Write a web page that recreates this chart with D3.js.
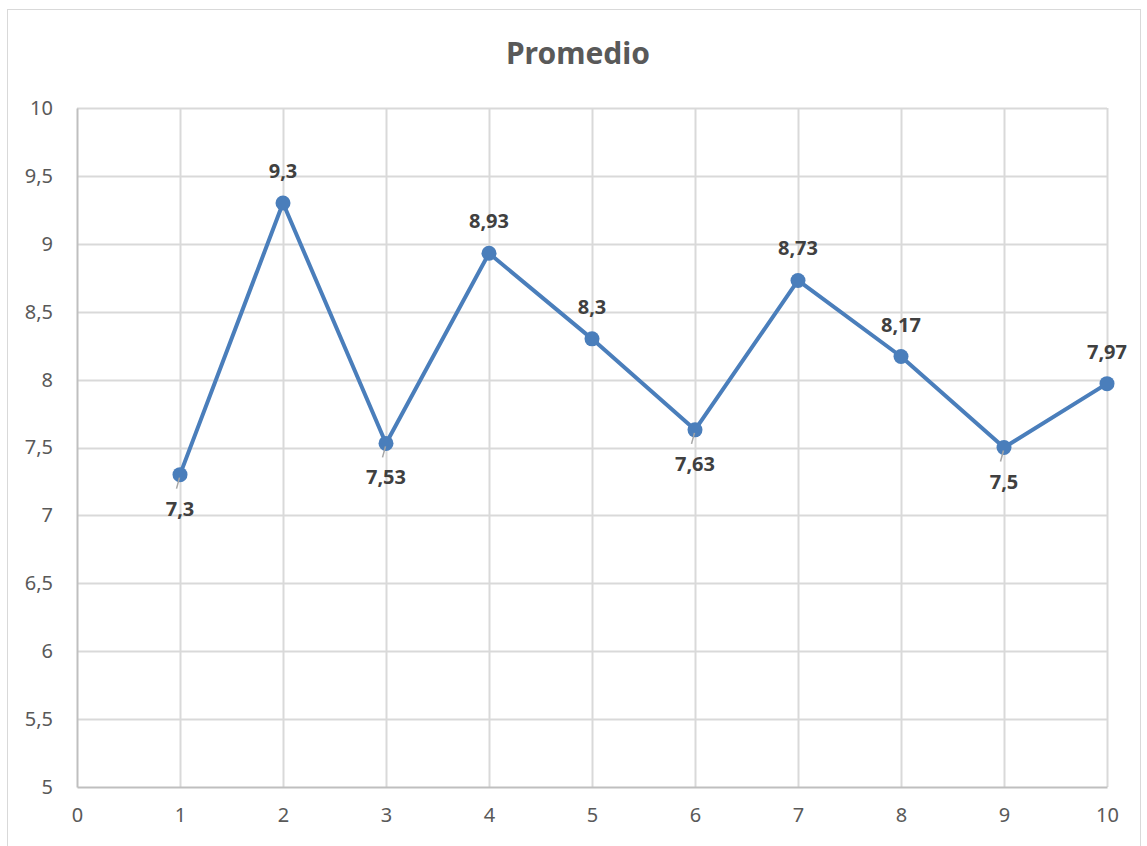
<!DOCTYPE html>
<html>
<head>
<meta charset="utf-8">
<script src="https://cdn.jsdelivr.net/npm/d3@7"></script>
<style>
  body { margin: 0; background: #fff; }
  svg text { font-family: "Noto Sans", "Open Sans", sans-serif; }
</style>
</head>
<body>
<div id="chart"></div>
<script>
// chart data
var xValues = [1, 2, 3, 4, 5, 6, 7, 8, 9, 10];
var promedio = [7.3, 9.3, 7.53, 8.93, 8.3, 7.63, 8.73, 8.17, 7.5, 7.97];
var labelPos = ["below", "above", "below", "above", "above", "below", "above", "above", "below", "above"];
var xTicks = [0, 1, 2, 3, 4, 5, 6, 7, 8, 9, 10];
var yTicks = [5, 5.5, 6, 6.5, 7, 7.5, 8, 8.5, 9, 9.5, 10];

var svgWidth = 1147;
var svgHeight = 846;

var margin = { top: 108, right: 40, bottom: 59, left: 77 };
var width = 1107 - margin.left;
var height = 787 - margin.top;

var fmt = function(v) { return String(v).replace(".", ","); };

var svg = d3.select("#chart")
  .append("svg")
  .attr("width", svgWidth)
  .attr("height", svgHeight);

// outer chart border
svg.append("rect")
  .attr("x", 7.5)
  .attr("y", 9.5)
  .attr("width", 1133)
  .attr("height", 850)
  .attr("fill", "#fff")
  .attr("stroke", "#d9d9d9")
  .attr("stroke-width", 1);

// title
svg.append("text")
  .attr("x", 578)
  .attr("y", 64)
  .attr("text-anchor", "middle")
  .style("font-size", "30px")
  .style("font-weight", "bold")
  .attr("fill", "#595959")
  .text("Promedio");

var chartGroup = svg.append("g")
  .attr("transform", `translate(${margin.left}, ${margin.top})`);

var xScale = d3.scaleLinear().domain([0, 10]).range([0, width]);
var yScale = d3.scaleLinear().domain([5, 10]).range([height, 0]);

// gridlines
chartGroup.append("g")
  .selectAll("line")
  .data(yTicks.slice(1))
  .enter()
  .append("line")
  .attr("x1", 0)
  .attr("x2", width)
  .attr("y1", d => Math.round(yScale(d)) + 0.5)
  .attr("y2", d => Math.round(yScale(d)) + 0.5)
  .attr("stroke", "#d9d9d9")
  .attr("stroke-width", 2);

chartGroup.append("g")
  .selectAll("line")
  .data(xTicks.slice(1))
  .enter()
  .append("line")
  .attr("x1", d => Math.round(xScale(d)) + 0.5)
  .attr("x2", d => Math.round(xScale(d)) + 0.5)
  .attr("y1", 0)
  .attr("y2", height)
  .attr("stroke", "#d9d9d9")
  .attr("stroke-width", 2);

// axes
var bottomAxis = d3.axisBottom(xScale).tickValues(xTicks).tickSize(0).tickPadding(21).tickFormat(fmt);
var leftAxis = d3.axisLeft(yScale).tickValues(yTicks).tickSize(0).tickPadding(24).tickFormat(fmt);

var gx = chartGroup.append("g")
  .attr("transform", `translate(0, ${height})`)
  .call(bottomAxis);
var gy = chartGroup.append("g")
  .call(leftAxis);

[gx, gy].forEach(function(g) {
  g.select(".domain").attr("stroke", "#bfbfbf").attr("stroke-width", 2);
  g.selectAll("text")
    .style("font-size", "20px")
    .style("font-family", "'Noto Sans', sans-serif")
    .attr("fill", "#595959");
});

// line
var line = d3.line()
  .x((d, i) => xScale(xValues[i]))
  .y(d => yScale(d));

chartGroup.append("path")
  .datum(promedio)
  .attr("d", line)
  .attr("fill", "none")
  .attr("stroke", "#4a7ebb")
  .attr("stroke-width", 4)
  .attr("stroke-linejoin", "round");

// markers
chartGroup.selectAll("circle")
  .data(promedio)
  .enter()
  .append("circle")
  .attr("cx", (d, i) => xScale(xValues[i]))
  .attr("cy", d => yScale(d))
  .attr("r", 7.5)
  .attr("fill", "#4a7ebb");

// leader lines for labels below
var belowIdx = xValues.map((x, i) => i).filter(i => labelPos[i] === "below");
chartGroup.selectAll(".leader")
  .data(belowIdx)
  .enter()
  .append("line")
  .attr("class", "leader")
  .attr("x1", i => xScale(xValues[i]) - 0.5)
  .attr("y1", i => yScale(promedio[i]) + 3)
  .attr("x2", i => xScale(xValues[i]) - 3.5)
  .attr("y2", i => yScale(promedio[i]) + 14)
  .attr("stroke", "#a6a6a6")
  .attr("stroke-width", 1.5);

// data labels
chartGroup.selectAll(".dlabel")
  .data(promedio)
  .enter()
  .append("text")
  .attr("class", "dlabel")
  .attr("x", (d, i) => xScale(xValues[i]))
  .attr("y", (d, i) => labelPos[i] === "above" ? yScale(d) - 25 : yScale(d) + 41)
  .attr("text-anchor", "middle")
  .style("font-size", "20px")
  .style("font-weight", "bold")
  .attr("fill", "#404040")
  .text(fmt);
</script>
</body>
</html>
